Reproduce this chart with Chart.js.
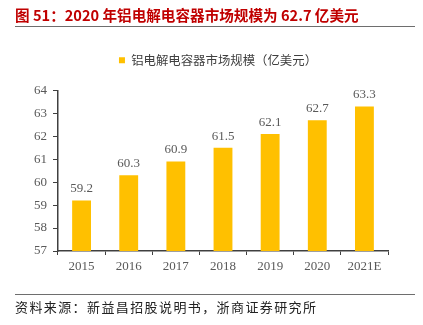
<!DOCTYPE html>
<html>
<head>
<meta charset="utf-8">
<script src="https://cdn.jsdelivr.net/npm/chart.js@4.4.1/dist/chart.umd.min.js"></script>
<style>
  html, body { margin: 0; padding: 0; background: #fff; }
  #wrap { position: relative; width: 423px; height: 325px; overflow: hidden; }
  #chart { position: absolute; left: 0; top: 0; }
  .title {
    position: absolute; left: 15px; top: 4px;
    font: bold 14.6px "Noto Sans CJK SC", "Noto Sans", sans-serif;
    color: #c00000; white-space: nowrap;
  }
  .rule { position: absolute; left: 15px; width: 400px; height: 1.4px; background: #6e6e6e; }
  .source {
    position: absolute; left: 15px; top: 297px;
    font: 13px "Noto Sans CJK SC", sans-serif; letter-spacing: 1.4px;
    color: #222; white-space: nowrap;
  }
</style>
</head>
<body>
<div id="wrap">
  <canvas id="chart" width="423" height="325"></canvas>
  <div class="title">图 51：2020 年铝电解电容器市场规模为 62.7 亿美元</div>
  <div class="rule" style="top:26px"></div>
  <div class="rule" style="top:294px"></div>
  <div class="source">资料来源：新益昌招股说明书，浙商证券研究所</div>
</div>
<script>
// market size, 100 million USD
const years = ['2015', '2016', '2017', '2018', '2019', '2020', '2021E'];
const marketSize = [59.2, 60.3, 60.9, 61.5, 62.1, 62.7, 63.3];
const yTicks = [57, 58, 59, 60, 61, 62, 63, 64];

const tickFont = { family: '"Liberation Serif", "Times New Roman", serif', size: 13 };
const axisColor = '#404040';

// extra room under the legend, and nudge it right over the bars
const legendTweak = {
    id: 'legendTweak',
    beforeInit(chart) {
        const origFit = chart.legend.fit;
        chart.legend.fit = function fit() {
            origFit.bind(chart.legend)();
            this.height += 14;
        };
    },
    afterLayout(chart) {
        chart.legend.left += 24;
        chart.legend.right += 24;
    }
};

// value labels above each bar
const barValues = {
    id: 'barValues',
    afterDatasetsDraw(chart) {
        const ctx = chart.ctx;
        const meta = chart.getDatasetMeta(0);
        ctx.save();
        ctx.font = '13px "Liberation Serif", "Times New Roman", serif';
        ctx.fillStyle = '#595959';
        ctx.textAlign = 'center';
        ctx.textBaseline = 'bottom';
        meta.data.forEach((bar, i) => {
            ctx.fillText(marketSize[i].toFixed(1), bar.x, bar.y - 5);
        });
        ctx.restore();
    }
};

new Chart(document.getElementById('chart'), {
    type: 'bar',
    data: {
        labels: years,
        datasets: [{
            label: '铝电解电容器市场规模（亿美元）',
            data: marketSize,
            backgroundColor: '#ffc000',
            borderWidth: 0,
            categoryPercentage: 1,
            barPercentage: 0.4
        }]
    },
    options: {
        responsive: false,
        devicePixelRatio: 1,
        animation: false,
        layout: { padding: { left: 0, right: 35, top: 44, bottom: 0 } },
        plugins: {
            legend: {
                position: 'top',
                labels: {
                    boxWidth: 6,
                    boxHeight: 6,
                    padding: 10,
                    color: '#404040',
                    font: { family: '"Noto Sans CJK SC", sans-serif', size: 12.4 }
                }
            },
            tooltip: { enabled: false }
        },
        scales: {
            x: {
                afterFit(scale) { scale.height = 74; },
                grid: {
                    display: true,
                    drawOnChartArea: false,
                    drawTicks: true,
                    tickLength: 4,
                    color: axisColor,
                    offset: true
                },
                border: { display: true, color: axisColor, width: 1.5 },
                ticks: { color: '#595959', font: tickFont, padding: 4 }
            },
            y: {
                min: 57,
                max: 64,
                afterFit(scale) { scale.width = 58; },
                afterBuildTicks(scale) {
                    scale.ticks = yTicks.map(v => ({ value: v }));
                },
                grid: {
                    display: true,
                    drawOnChartArea: false,
                    drawTicks: true,
                    tickLength: 5,
                    color: axisColor
                },
                border: { display: true, color: axisColor, width: 1.5 },
                ticks: { color: '#595959', font: tickFont, padding: 6 }
            }
        }
    },
    plugins: [legendTweak, barValues]
});
</script>
</body>
</html>
